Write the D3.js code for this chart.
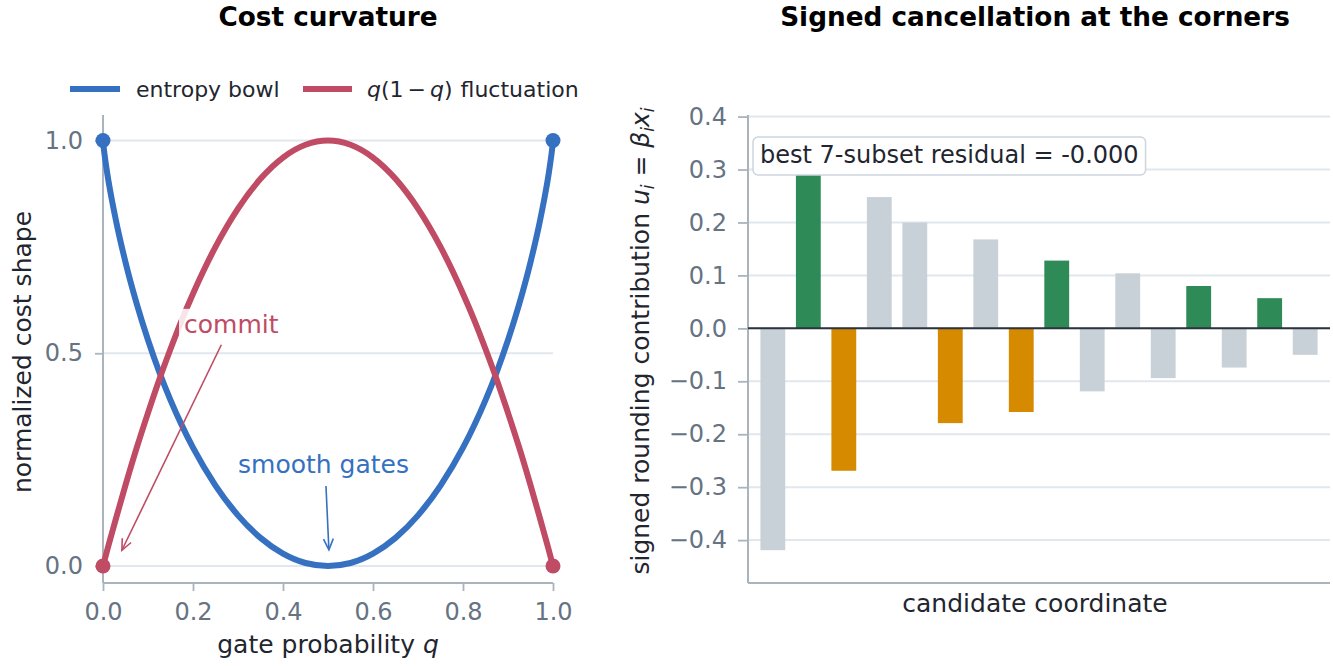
<!DOCTYPE html>
<html><head><meta charset="utf-8">
<script src="https://cdn.jsdelivr.net/npm/d3@7"></script>
<style>
html,body{margin:0;padding:0;background:#fff;}
svg{display:block;font-family:"DejaVu Sans",sans-serif;}
</style></head>
<body>
<svg id="chart" width="1333" height="666"></svg>
<script>
// ---------- data ----------
const qGrid = [0,0.001,0.005,0.01,0.02,0.03,0.05,0.075,0.1,0.125,0.15,0.175,0.2,0.25,0.3,0.35,0.4,0.45,0.5,
  0.55,0.6,0.65,0.7,0.75,0.8,0.825,0.85,0.875,0.9,0.925,0.95,0.97,0.98,0.99,0.995,0.999,1];
const entropyBowl = [1,0.989,0.955,0.919,0.859,0.806,0.714,0.616,0.531,0.456,0.390,0.331,0.278,0.189,0.119,0.066,0.029,0.007,0,
  0.007,0.029,0.066,0.119,0.189,0.278,0.331,0.390,0.456,0.531,0.616,0.714,0.806,0.859,0.919,0.955,0.989,1];
const fluctuation = [0,0.004,0.020,0.040,0.078,0.116,0.190,0.278,0.360,0.438,0.510,0.578,0.640,0.750,0.840,0.910,0.960,0.990,1,
  0.990,0.960,0.910,0.840,0.750,0.640,0.578,0.510,0.438,0.360,0.278,0.190,0.116,0.078,0.040,0.020,0.004,0];
const bowlEnds = [[0,1],[1,1]];
const flucEnds = [[0,0],[1,0]];
const leftXTicks = [0,0.2,0.4,0.6,0.8,1.0];
const leftYTicks = [0,0.5,1.0];

const coordIndex = d3.range(16);
const contributions = [-0.419,0.290,-0.269,0.248,0.200,-0.179,0.168,-0.158,0.128,-0.119,0.104,-0.094,0.080,-0.074,0.057,-0.050];
const roles = ['other','plus','minus','other','other','minus','other','minus','plus','other','other','other','plus','other','plus','other'];
const rightYTicks = [-0.4,-0.3,-0.2,-0.1,0,0.1,0.2,0.3,0.4];
const residualLabel = "best 7-subset residual = -0.000";

// ---------- styles ----------
const C = {blue:"#3571c0", red:"#c04b64", green:"#2e8b57", orange:"#d68a00", gray:"#c9d1d8",
  spine:"#aab4bf", tick:"#667383", grid:"#e2e7ed", text:"#1f2630"};
const roleColor = {plus:C.green, minus:C.orange, other:C.gray};

const svg = d3.select("#chart");
const fmt = d => d3.format(".1f")(d).replace("-", "\u2212");

function arrow(g, x1, y1, x2, y2, color){
  g.append("line").attr("x1",x1).attr("y1",y1).attr("x2",x2).attr("y2",y2)
    .attr("stroke",color).attr("stroke-width",1.6);
  const a = Math.atan2(y2-y1, x2-x1), L = 12, w = 0.42;
  const p = [[x2 - L*Math.cos(a-w), y2 - L*Math.sin(a-w)],[x2,y2],[x2 - L*Math.cos(a+w), y2 - L*Math.sin(a+w)]];
  g.append("path").attr("d", d3.line()(p)).attr("fill","none").attr("stroke",color).attr("stroke-width",1.6);
}

// ---------- left panel ----------
{
  const L = {x0:103, x1:553, y0:583, y1:115};
  const x = d3.scaleLinear().domain([0,1]).range([L.x0, L.x1]);
  const y = d3.scaleLinear().domain([-0.04,1.06]).range([L.y0, L.y1]);
  const g = svg.append("g");

  g.selectAll(".gy").data(leftYTicks).join("line")
    .attr("x1",L.x0).attr("x2",L.x1).attr("y1",d=>y(d)).attr("y2",d=>y(d))
    .attr("stroke",C.grid).attr("stroke-width",2);

  const xa = g.append("g").attr("transform",`translate(0,${L.y0})`)
    .call(d3.axisBottom(x).tickValues(leftXTicks).tickFormat(d3.format(".1f")).tickSize(8).tickPadding(12));
  const ya = g.append("g").attr("transform",`translate(${L.x0},0)`)
    .call(d3.axisLeft(y).tickValues(leftYTicks).tickFormat(d3.format(".1f")).tickSize(8).tickPadding(12));
  [xa,ya].forEach(a=>{
    a.select(".domain").attr("stroke",C.spine).attr("stroke-width",2);
    a.selectAll(".tick line").attr("stroke",C.spine).attr("stroke-width",1.8);
    a.selectAll(".tick text").attr("fill",C.tick).attr("font-size",24).attr("font-family","DejaVu Sans");
  });
  ya.select(".domain").attr("d",`M0,${L.y1}V${L.y0}`);
  xa.select(".domain").attr("d",`M${L.x0},0H${L.x1}`);

  const line = d3.line().x((d,i)=>x(qGrid[i])).y(d=>y(d)).curve(d3.curveMonotoneX);
  g.append("path").attr("d", line(entropyBowl)).attr("fill","none").attr("stroke",C.blue).attr("stroke-width",6);
  g.append("path").attr("d", line(fluctuation)).attr("fill","none").attr("stroke",C.red).attr("stroke-width",6);

  g.selectAll(".be").data(bowlEnds).join("circle").attr("cx",d=>x(d[0])).attr("cy",d=>y(d[1])).attr("r",7.5).attr("fill",C.blue);
  g.selectAll(".fe").data(flucEnds).join("circle").attr("cx",d=>x(d[0])).attr("cy",d=>y(d[1])).attr("r",7.5).attr("fill",C.red);

  // annotations
  const cbox = g.append("rect").attr("fill","#fff").attr("opacity",0.85);
  const ct = g.append("text").attr("x",x(0.18)).attr("y",y(0.548)).attr("fill",C.red)
    .attr("font-size",25).text("commit");
  const bb = ct.node().getBBox();
  cbox.attr("x",bb.x-5).attr("y",bb.y-1).attr("width",bb.width+10).attr("height",bb.height+2);
  arrow(g, x(0.263), y(0.52), x(0.042), y(0.037), C.red);

  g.append("text").attr("x",x(0.49)).attr("y",y(0.219)).attr("text-anchor","middle").attr("fill",C.blue)
    .attr("font-size",25).text("smooth gates");
  arrow(g, x(0.4955), y(0.188), x(0.502), y(0.038), C.blue);

  g.append("text").attr("x",(L.x0+L.x1)/2).attr("y",26).attr("text-anchor","middle")
    .attr("font-size",26.3).attr("font-weight","bold").attr("fill","#000").text("Cost curvature");
  const xl = g.append("text").attr("x",(L.x0+L.x1)/2).attr("y",653).attr("text-anchor","middle")
    .attr("font-size",25).attr("fill",C.text);
  xl.append("tspan").text("gate probability ");
  xl.append("tspan").attr("font-style","italic").text("q");
  g.append("text").attr("transform",`translate(31,352) rotate(-90)`).attr("text-anchor","middle")
    .attr("font-size",25).attr("fill",C.text).text("normalized cost shape");

  const lg = g.append("g");
  lg.append("line").attr("x1",70).attr("x2",120).attr("y1",89).attr("y2",89).attr("stroke",C.blue).attr("stroke-width",6);
  lg.append("text").attr("x",136).attr("y",96.5).attr("font-size",22).attr("fill",C.text).text("entropy bowl");
  lg.append("line").attr("x1",303).attr("x2",352).attr("y1",89).attr("y2",89).attr("stroke",C.red).attr("stroke-width",6);
  const lt = lg.append("text").attr("x",367).attr("y",96.5).attr("font-size",22).attr("fill",C.text);
  lt.append("tspan").attr("font-style","italic").text("q");
  lt.append("tspan").text("(1");
  lt.append("tspan").attr("dx",4).text("\u2212");
  lt.append("tspan").attr("dx",4).attr("font-style","italic").text("q");
  lt.append("tspan").text(")");
  lt.append("tspan").attr("dx",8).text("fluctuation");
}

// ---------- right panel ----------
{
  const R = {x0:748, x1:1330, y0:583, y1:115};
  const x = d3.scaleBand().domain(coordIndex).range([R.x0, R.x1]).paddingInner(0.3).paddingOuter(0.35);
  const y = d3.scaleLinear().domain([-0.481,0.403]).range([R.y0, R.y1]);
  const g = svg.append("g");

  g.selectAll(".gy").data(rightYTicks).join("line")
    .attr("x1",R.x0).attr("x2",R.x1).attr("y1",d=>y(d)).attr("y2",d=>y(d))
    .attr("stroke",C.grid).attr("stroke-width",2);

  const ya = g.append("g").attr("transform",`translate(${R.x0},0)`)
    .call(d3.axisLeft(y).tickValues(rightYTicks).tickFormat(fmt).tickSize(10).tickPadding(11));
  ya.select(".domain").attr("stroke",C.spine).attr("stroke-width",2).attr("d",`M0,${R.y1}V${R.y0}`);
  ya.selectAll(".tick line").attr("stroke",C.spine).attr("stroke-width",1.8);
  ya.selectAll(".tick text").attr("fill",C.tick).attr("font-size",24).attr("font-family","DejaVu Sans");
  g.append("line").attr("x1",R.x0).attr("x2",R.x1).attr("y1",R.y0).attr("y2",R.y0).attr("stroke",C.spine).attr("stroke-width",2);

  g.selectAll(".bar").data(contributions).join("rect")
    .attr("x",(d,i)=>x(coordIndex[i])).attr("width",x.bandwidth())
    .attr("y",d=>y(Math.max(0,d))).attr("height",d=>Math.abs(y(d)-y(0)))
    .attr("fill",(d,i)=>roleColor[roles[i]]);

  g.append("line").attr("x1",R.x0).attr("x2",R.x1).attr("y1",y(0)).attr("y2",y(0)).attr("stroke","#2b333d").attr("stroke-width",2);

  const box = g.append("rect").attr("rx",5).attr("fill","#fff").attr("fill-opacity",0.95)
    .attr("stroke","#cdd5de").attr("stroke-width",1.5);
  const bt = g.append("text").attr("x",760).attr("y",162.5).attr("font-size",24).attr("fill",C.text).text(residualLabel);
  const bb = bt.node().getBBox();
  box.attr("x",bb.x-7).attr("y",137).attr("width",bb.width+14).attr("height",38);

  g.append("text").attr("x",1035).attr("y",26).attr("text-anchor","middle")
    .attr("font-size",26.3).attr("font-weight","bold").attr("fill","#000").text("Signed cancellation at the corners");
  g.append("text").attr("x",1035).attr("y",611.5).attr("text-anchor","middle")
    .attr("font-size",25).attr("fill",C.text).text("candidate coordinate");
  const yl = g.append("text").attr("transform",`translate(649,341) rotate(-90)`).attr("text-anchor","middle")
    .attr("font-size",25).attr("fill",C.text);
  yl.append("tspan").text("signed rounding contribution ");
  yl.append("tspan").attr("font-style","italic").text("u");
  yl.append("tspan").attr("font-style","italic").attr("font-size",17).attr("dy",5).text("i");
  yl.append("tspan").attr("dy",-5).text(" = ");
  yl.append("tspan").attr("font-style","italic").text("\u03B2");
  yl.append("tspan").attr("font-style","italic").attr("font-size",17).attr("dy",5).text("i");
  yl.append("tspan").attr("font-style","italic").attr("dy",-5).text("x");
  yl.append("tspan").attr("font-style","italic").attr("font-size",17).attr("dy",5).text("i");
}
</script>
</body></html>
